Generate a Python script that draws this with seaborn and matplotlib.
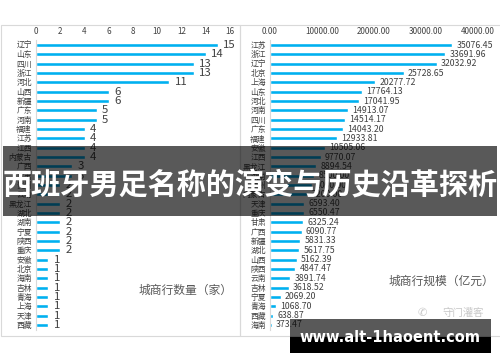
import matplotlib
matplotlib.use("Agg")
import matplotlib.pyplot as plt
import seaborn as sns
import pandas as pd
from matplotlib.patches import Rectangle

# ---- data ----
left_cats = ["辽宁", "山东", "四川", "浙江", "河北", "山西", "新疆", "广东", "河南", "福建",
             "江苏", "江西", "内蒙古", "广西", "甘肃", "贵州", "云南", "黑龙江", "湖北", "湖南",
             "宁夏", "陕西", "重庆", "安徽", "北京", "海南", "吉林", "青海", "上海", "天津", "西藏"]
left_vals = [15, 14, 13, 13, 11, 6, 6, 5, 5, 4,
             4, 4, 4, 3, 3, 2, 2, 2, 2, 2,
             2, 2, 2, 1, 1, 1, 1, 1, 1, 1, 1]
left_ticks = [0, 2, 4, 6, 8, 10, 12, 14, 16]

right_cats = ["江苏", "浙江", "辽宁", "北京", "上海", "山东", "河北", "河南", "四川", "广东",
              "福建", "安徽", "江西", "黑龙江", "湖南", "贵州", "内蒙古", "天津", "重庆", "甘肃",
              "广西", "新疆", "湖北", "山西", "陕西", "云南", "吉林", "宁夏", "青海", "西藏", "海南"]
right_vals = [35076.45, 33691.96, 32032.92, 25728.65, 20277.72, 17764.13, 17041.95, 14913.07,
              14514.17, 14043.20, 12933.81, 10505.06, 9770.07, 8894.54, 8500.00, 8000.00,
              7200.00, 6593.40, 6550.47, 6325.24, 6090.77, 5831.33, 5617.75, 5162.39, 4847.47,
              3891.74, 3618.52, 2069.20, 1068.70, 638.87, 373.47]
right_ticks = [0, 10000, 20000, 30000, 40000]

left_title = "城商行数量（家）"
right_title = "城商行规模（亿元）"
banner = "西班牙男足名称的演变与历史沿革探析"
footer = "www.alt-1haoent.com"
watermark = "守门灌客"

sns.set_theme(style="white")
plt.rcParams['font.family'] = ['Noto Sans CJK SC', 'DejaVu Sans']

W, H = 500, 362
fig = plt.figure(figsize=(5, 3.62), dpi=100)
fig.patch.set_facecolor("white")

def fx(px):
    return px / W

def fy(py):
    return 1 - py / H

BLUE = "#00B0F0"

# panel borders
for x0, x1 in [(1, 240), (240, 503)]:
    fig.patches.append(Rectangle((fx(x0), fy(336)), fx(x1 - x0), (336 - 25) / H,
                                 transform=fig.transFigure, fill=False,
                                 edgecolor="#d9d9d9", linewidth=0.8, zorder=0))

def make_axes(x0, x1):
    top, bot = 40.4, 329.6
    return fig.add_axes([fx(x0), fy(bot), fx(x1 - x0), (bot - top) / H])

axL = make_axes(36, 230)
axR = make_axes(270, 478)

dfL = pd.DataFrame({"cat": left_cats, "val": left_vals})
dfR = pd.DataFrame({"cat": right_cats, "val": right_vals})

sns.barplot(data=dfL, x="val", y="cat", order=left_cats, color=BLUE, width=0.42,
            saturation=1, ax=axL)
sns.barplot(data=dfR, x="val", y="cat", order=right_cats, color=BLUE, width=0.42,
            saturation=1, ax=axR)

for ax, ticks, is_int in [(axL, left_ticks, True), (axR, right_ticks, False)]:
    ax.set_xlim(ticks[0], ticks[-1])
    ax.set_xticks(ticks)
    ax.set_xticklabels([str(t) if is_int else "{:.2f}".format(t) for t in ticks])
    ax.xaxis.tick_top()
    ax.tick_params(axis="x", labelsize=5.8, colors="#404040", length=0, pad=3)
    ax.tick_params(axis="y", labelsize=5.6, colors="#404040", length=0, pad=3)
    ax.set_xlabel("")
    ax.set_ylabel("")
    for s in ["top", "right", "bottom"]:
        ax.spines[s].set_visible(False)
    ax.spines["left"].set_color("#d9d9d9")
    ax.spines["left"].set_linewidth(0.8)
    ax.set_facecolor("none")

axL.bar_label(axL.containers[0], labels=[str(v) for v in left_vals], padding=4,
              fontsize=8.2, color="#404040")
axR.bar_label(axR.containers[0], labels=["{:.2f}".format(v) for v in right_vals], padding=3,
              fontsize=6.3, color="#404040")

# axis titles
fig.text(fx(233), fy(290), left_title, ha="right", va="center", fontsize=8.5, color="#595959")
fig.text(fx(494), fy(281), right_title, ha="right", va="center", fontsize=8.5, color="#595959")

# watermark
fig.text(fx(484), fy(313), watermark, ha="right", va="center", fontsize=7.5, color="#c8c8c8")
fig.text(fx(422), fy(313), "✆", ha="center", va="center", fontsize=8, color="#c8c8c8",
         family=["DejaVu Sans"])

# banner
fig.patches.append(Rectangle((fx(3), fy(216)), fx(494), 70 / H, transform=fig.transFigure,
                             facecolor="black", alpha=0.65, edgecolor="none", zorder=5))
fig.text(0.5, fy(184), banner, ha="center", va="center", fontsize=21, fontweight="bold",
         color="white", zorder=6)

# footer
fig.patches.append(Rectangle((fx(290), fy(337)), fx(201), 18 / H, transform=fig.transFigure,
                             facecolor="black", alpha=0.65, edgecolor="none", zorder=5))
fig.patches.append(Rectangle((fx(290), fy(353)), fx(201), 16 / H, transform=fig.transFigure,
                             facecolor="black", edgecolor="none", zorder=5))
fig.text(fx(390), fy(337), footer, ha="center", va="center", fontsize=10.5, fontweight="bold",
         color="white", family=["DejaVu Sans"], zorder=6)

fig.savefig("out.png", dpi=100, facecolor="white")
